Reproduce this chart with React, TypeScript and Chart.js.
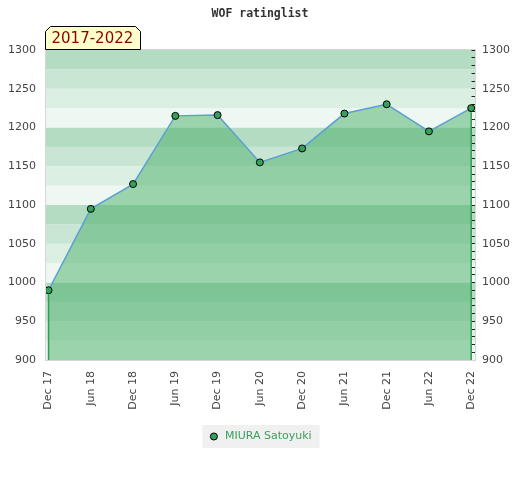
import { useEffect, useRef } from 'react';
import { Chart, registerables } from 'chart.js';

Chart.register(...registerables);

const chartTitle = 'WOF ratinglist';
const periodLabel = '2017-2022';
const seriesName = 'MIURA Satoyuki';
const categories = ['Dec 17', 'Jun 18', 'Dec 18', 'Jun 19', 'Dec 19', 'Jun 20', 'Dec 20', 'Jun 21', 'Dec 21', 'Jun 22', 'Dec 22'];
const ratings = [990, 1095, 1127, 1215, 1216, 1155, 1173, 1218, 1230, 1195, 1225];
const yMin = 900;
const yMax = 1300;
const yStep = 50;
const minorStep = 10;
const bandStep = 25;

const bandColors = ['#eef7f1', '#dcefe3', '#c9e6d4', '#b4dcc3'];
const tickColor = '#444';
const tickFont = { family: 'DejaVu Sans', size: 11 };

const decorPlugin = {
  id: 'decor',
  beforeDraw(chart: any) {
    const { ctx, chartArea } = chart;
    const ys = chart.scales.y;
    ctx.save();
    for (let v = yMin; v < yMax; v += bandStep) {
      const k = Math.round((v - yMin) / bandStep) % 4;
      const yTop = ys.getPixelForValue(v + bandStep);
      const yBot = ys.getPixelForValue(v);
      ctx.fillStyle = bandColors[k];
      ctx.fillRect(chartArea.left, yTop, chartArea.right - chartArea.left, yBot - yTop);
    }
    const lg = chart.legend;
    if (lg && lg.legendHitBoxes && lg.legendHitBoxes.length) {
      const hb = lg.legendHitBoxes[0];
      ctx.fillStyle = '#f0f0f0';
      ctx.fillRect(hb.left - 6, hb.top - 6, hb.width + 14, hb.height + 12);
    }
    ctx.restore();
  },
  afterDatasetsDraw(chart: any) {
    const { ctx, chartArea } = chart;
    const meta = chart.getDatasetMeta(0);
    const pts = [meta.data[0], meta.data[meta.data.length - 1]];
    ctx.save();
    ctx.strokeStyle = '#2e9e52';
    ctx.lineWidth = 1.5;
    pts.forEach((p: any) => {
      ctx.beginPath();
      ctx.moveTo(p.x, p.y + 4);
      ctx.lineTo(p.x, chartArea.bottom);
      ctx.stroke();
    });
    ctx.restore();
  },
  afterDraw(chart: any) {
    const { ctx, chartArea } = chart;
    ctx.save();
    ctx.strokeStyle = '#d6d6d6';
    ctx.lineWidth = 1;
    ctx.strokeRect(chartArea.left - 0.5, chartArea.top - 0.5, chartArea.right - chartArea.left + 1, chartArea.bottom - chartArea.top + 1);
    const x0 = chartArea.left - 0.5;
    const y1 = chartArea.top - 0.5;
    const w = 95;
    const h = 23;
    const c = 5;
    ctx.beginPath();
    ctx.moveTo(x0, y1);
    ctx.lineTo(x0, y1 - h + c);
    ctx.lineTo(x0 + c, y1 - h);
    ctx.lineTo(x0 + w - c, y1 - h);
    ctx.lineTo(x0 + w, y1 - h + c);
    ctx.lineTo(x0 + w, y1);
    ctx.closePath();
    ctx.fillStyle = '#ffffcc';
    ctx.fill();
    ctx.strokeStyle = '#000';
    ctx.stroke();
    ctx.fillStyle = '#8b0000';
    ctx.font = '15px "DejaVu Sans"';
    ctx.textBaseline = 'middle';
    ctx.textAlign = 'left';
    ctx.fillText(periodLabel, x0 + 6, y1 - h / 2 + 1);
    ctx.restore();
  },
};

export default function App() {
  const ref = useRef<HTMLCanvasElement | null>(null);

  useEffect(() => {
    document.body.style.margin = '0';
    const canvas = ref.current;
    if (!canvas) return;
    const chart = new Chart(canvas, {
      type: 'line',
      data: {
        datasets: [
          {
            label: seriesName,
            data: ratings.map((v, i) => ({ x: i, y: v })),
            borderColor: '#5b9fd6',
            borderWidth: 1.5,
            backgroundColor: 'rgba(64,172,99,0.48)',
            fill: 'start',
            tension: 0,
            pointRadius: 3.5,
            pointHoverRadius: 3.5,
            pointBackgroundColor: '#36a05a',
            pointBorderColor: '#000',
            pointBorderWidth: 1,
            yAxisID: 'y',
          },
        ],
      },
      options: {
        animation: false,
        responsive: false,
        maintainAspectRatio: false,
        events: [],
        layout: { padding: { left: 0, right: 0, top: 0, bottom: 28 } },
        plugins: {
          title: {
            display: true,
            text: chartTitle,
            color: '#333',
            font: { family: 'DejaVu Sans Mono', size: 11.5, weight: 'bold' },
            padding: { top: 7, bottom: 29.2 },
          },
          legend: {
            position: 'bottom',
            labels: {
              usePointStyle: true,
              boxHeight: 5,
              color: '#3aa05c',
              font: { family: 'DejaVu Sans', size: 11 },
              padding: 10,
            },
          },
          tooltip: { enabled: false },
        },
        scales: {
          x: {
            type: 'linear',
            min: -0.06,
            max: 10.09,
            afterBuildTicks: (s: any) => {
              s.ticks = categories.map((_, i) => ({ value: i }));
            },
            afterFit: (s: any) => {
              s.height = 61;
            },
            ticks: {
              autoSkip: false,
              minRotation: 90,
              maxRotation: 90,
              padding: 11,
              color: tickColor,
              font: tickFont,
              callback: (v: any) => categories[v] ?? '',
            },
            grid: { display: false, drawTicks: false },
            border: { display: false },
          },
          y: {
            type: 'linear',
            position: 'left',
            min: yMin,
            max: yMax,
            afterFit: (s: any) => {
              s.width = 46;
            },
            ticks: {
              stepSize: yStep,
              padding: 10,
              color: tickColor,
              font: tickFont,
              callback: (v: any) => String(v),
            },
            grid: { display: false, drawTicks: false },
            border: { display: false },
          },
          y2: {
            type: 'linear',
            position: 'right',
            min: yMin,
            max: yMax,
            afterFit: (s: any) => {
              s.width = 45;
            },
            ticks: {
              stepSize: minorStep,
              autoSkip: false,
              padding: 10.5,
              color: tickColor,
              font: tickFont,
              callback: (v: any) => (v % yStep === 0 ? String(v) : ''),
            },
            grid: { drawOnChartArea: false, drawTicks: true, tickLength: -3.5, color: '#222', lineWidth: 1 },
            border: { display: false },
          },
        },
      },
      plugins: [decorPlugin],
    } as any);
    return () => chart.destroy();
  }, []);

  return (
    <div style={{ width: 520, height: 480 }}>
      <canvas ref={ref} width={520} height={480} style={{ display: 'block', width: 520, height: 480 }} />
    </div>
  );
}
